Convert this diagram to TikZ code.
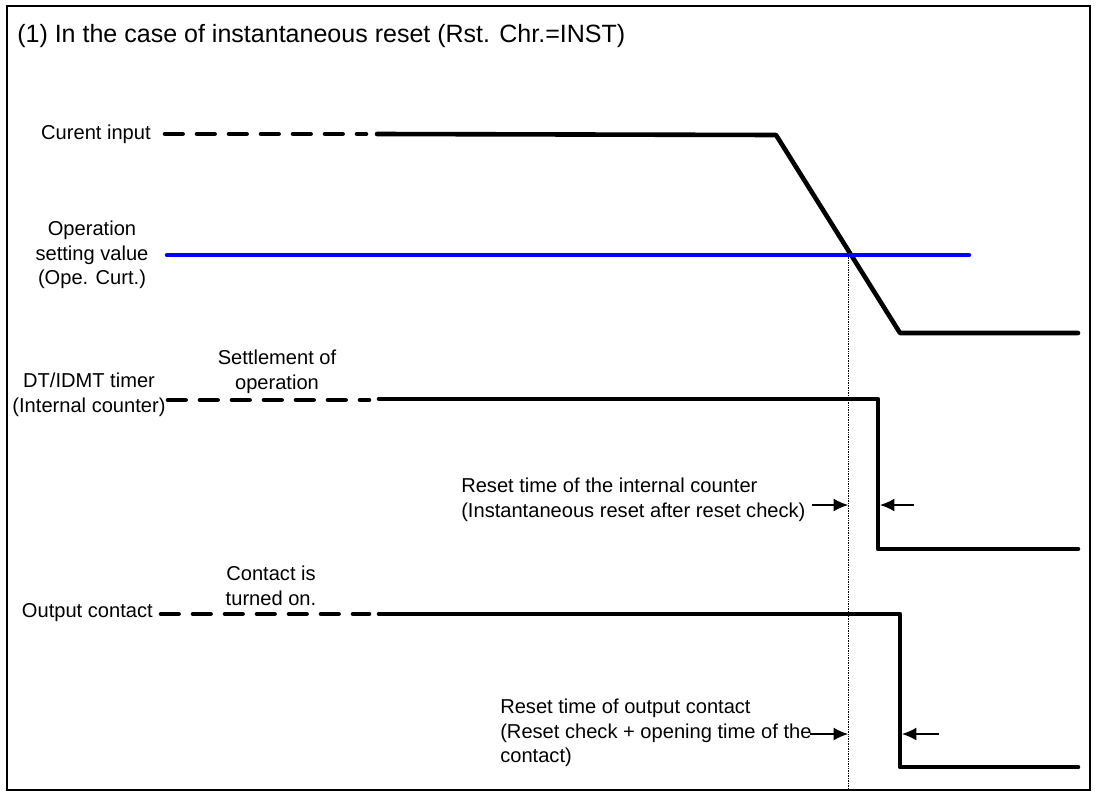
\documentclass[tikz,border=0pt]{standalone}
\usepackage{fontspec}
\setmainfont{Liberation Sans}
\usetikzlibrary{positioning,arrows.meta}
\begin{document}
\begin{tikzpicture}[
        x=0.25mm, y=-0.25mm,
        every node/.style={font=\fontsize{14.3}{17.4}\selectfont, inner sep=0pt},
        sig/.style={line width=1.15mm, line cap=round, line join=round},
        pre/.style={sig, dash pattern=on 4.4mm off 3.6mm},
        lvl/.style={line width=1.1mm, line cap=round, blue},
        guide/.style={line width=0.2mm, dash pattern=on 0.6pt off 0.6pt},
        arrow/.style={-{Latex[length=3.6mm,width=3.2mm]}, line width=0.3mm},
        lbl/.style={align=center}
    ]
    \useasboundingbox (0,0) rectangle (1097,798);
    \draw[line width=0.35mm] (7,6) rectangle (1090,790);
    \node[anchor=west, font=\fontsize{17.8}{21}\selectfont] (title) at (17,36) {(1) In the case of instantaneous reset (Rst. Chr.=INST)};

    % labels
    \node[anchor=east] (cur) at (151,134) {Curent input};
    \node[lbl] (ope) at (92,255) {Operation\\setting value\\(Ope. Curt.)};
    \node[lbl] (tmr) at (89,395) {DT/IDMT timer\\(Internal counter)};
    \node[lbl] (settle) at (277,372) {Settlement of\\operation};
    \node[anchor=east] (out) at (153,613) {Output contact};
    \node[lbl] (cont) at (271,586) {Contact is\\turned on.};
    \node[anchor=west, align=left] (rstcnt) at (461,500) {Reset time of the internal counter\\(Instantaneous reset after reset check)};
    \node[anchor=west, align=left] (rstout) at (500,733) {Reset time of output contact\\(Reset check + opening time of the\\contact)};

    % current input
    \draw[pre] (165,134) -- (366,134);
    \draw[sig] (377,134) -- (776,135) -- (900,333) -- (1078,333);
    \draw[lvl] (167,255) -- (969,255);
    \coordinate (cross) at (848,255);
    \coordinate (bot) at (848,790);
    \draw[guide] (cross) -- (bot);

    % timer
    \draw[pre] (168,400) -- (369,400);
    \draw[sig] (379,399) -- (878,399) -- (878,549) -- (1078,549);
    \coordinate (a1) at (812,505);
    \coordinate (b1) at (914,505);
    \draw[arrow] (a1) -- (cross |- a1);
    \draw[arrow] (b1) -- (880,505);

    % output contact
    \draw[pre] (161,614) -- (369,614);
    \draw[sig] (379,614) -- (900,614) -- (900,767) -- (1078,767);
    \coordinate (a2) at (810,734);
    \coordinate (b2) at (939,734);
    \draw[arrow] (a2) -- (cross |- a2);
    \draw[arrow] (b2) -- (902,734);
\end{tikzpicture}
\end{document}
